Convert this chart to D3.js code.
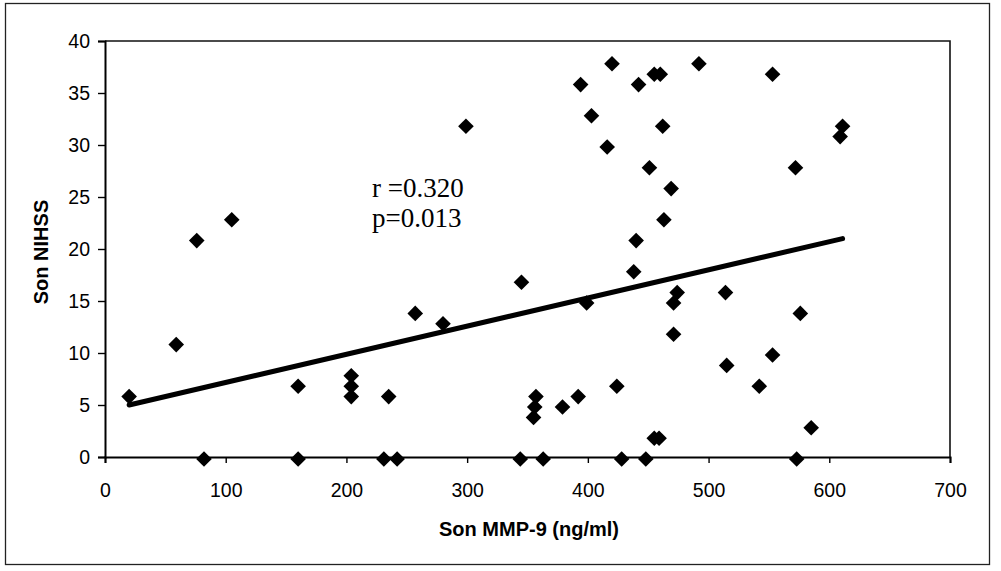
<!DOCTYPE html>
<html>
<head>
<meta charset="utf-8">
<script src="https://cdn.jsdelivr.net/npm/d3@7"></script>
<style>
  body { margin: 0; background: #fff; }
  svg { display: block; }
</style>
</head>
<body>
<svg></svg>

<script>

  // Son MMP-9 (ng/ml) for each patient
  var mmp9 = [20, 59, 76, 105, 82, 160, 160, 204, 204, 204, 235, 231, 242, 257, 280, 299,
              345, 344, 355, 356, 357, 363, 379, 392, 394, 399, 403, 416, 420, 424, 428,
              438, 440, 442, 448, 451, 455, 460, 455, 459, 462, 463, 469, 471, 474, 471,
              492, 514, 515, 542, 553, 553, 572, 573, 576, 585, 609, 611];
  // Son NIHSS for the same patients
  var nihss = [6, 11, 21, 23, 0, 7, 0, 8, 7, 6, 6, 0, 0, 14, 13, 32,
               17, 0, 4, 5, 6, 0, 5, 6, 36, 15, 33, 30, 38, 7, 0,
               18, 21, 36, 0, 28, 37, 37, 2, 2, 32, 23, 26, 15, 16, 12,
               38, 16, 9, 7, 10, 37, 28, 0, 14, 3, 31, 32];

  // regression line ends
  var trendX = [20, 611];
  var trendY = [5, 21];

  var xTicks = [0, 100, 200, 300, 400, 500, 600, 700];
  var yTicks = [0, 5, 10, 15, 20, 25, 30, 35, 40];
  var statText = ["r =0.320", "p=0.013"];

  var W = 1001, H = 571;
  var svg = d3.select("svg").attr("width", W).attr("height", H);

  var x = d3.scaleLinear().domain([0, 700]).range([105, 950]);
  var y = d3.scaleLinear().domain([0, 40]).range([457, 41]);

  var sans = "'Liberation Sans', Arial, sans-serif";

  // outer frame
  svg.append("rect")
    .attr("x", 5.5).attr("y", 3.5)
    .attr("width", 984).attr("height", 561)
    .attr("fill", "none").attr("stroke", "#222").attr("stroke-width", 1.3);

  // top + right border of plot
  svg.append("path")
    .attr("d", "M" + x(0) + "," + y(40) + "H" + x(700) + "V" + y(0))
    .attr("fill", "none").attr("stroke", "#111").attr("stroke-width", 1.6);

  // axes
  var xAxis = svg.append("g")
    .attr("transform", "translate(0," + y(0) + ")")
    .call(d3.axisBottom(x).tickValues(xTicks).tickSize(6).tickPadding(20));
  var yAxis = svg.append("g")
    .attr("transform", "translate(" + x(0) + ",0)")
    .call(d3.axisLeft(y).tickValues(yTicks).tickSize(7).tickPadding(8));

  [xAxis, yAxis].forEach(function(g) {
    g.select(".domain").attr("stroke", "#000").attr("stroke-width", 2);
    g.selectAll(".tick line").attr("stroke", "#000").attr("stroke-width", 1.4);
    g.selectAll("text").attr("fill", "#000")
      .style("font-family", sans).style("font-size", "19.5px");
  });

  // trend line
  svg.append("line")
    .attr("x1", x(trendX[0])).attr("y1", y(trendY[0]))
    .attr("x2", x(trendX[1])).attr("y2", y(trendY[1]))
    .attr("stroke", "#000").attr("stroke-width", 5).attr("stroke-linecap", "round");

  // diamonds
  var pts = mmp9.map(function(d, i) { return [d, nihss[i]]; });
  svg.selectAll("path.pt").data(pts).enter()
    .append("path")
    .attr("class", "pt")
    .attr("d", d3.symbol().type(d3.symbolSquare).size(122))
    .attr("transform", function(d) {
      return "translate(" + x(d[0]) + "," + (y(d[1]) + 2) + ") rotate(45)";
    })
    .attr("fill", "#000");

  // stats
  svg.selectAll("text.stat").data(statText).enter()
    .append("text")
    .attr("class", "stat")
    .attr("x", 372)
    .attr("y", function(d, i) { return 197 + i * 30; })
    .style("font-family", "'Liberation Serif', 'Times New Roman', serif")
    .style("font-size", "27px")
    .text(function(d) { return d; });

  // axis titles
  svg.append("text")
    .attr("x", 529).attr("y", 536)
    .attr("text-anchor", "middle")
    .style("font-family", sans).style("font-size", "20px").style("font-weight", "bold")
    .text("Son MMP-9 (ng/ml)");

  svg.append("text")
    .attr("transform", "translate(48,252) rotate(-90)")
    .attr("text-anchor", "middle")
    .style("font-family", sans).style("font-size", "20px").style("font-weight", "bold")
    .text("Son NIHSS");

</script>
</body>
</html>
